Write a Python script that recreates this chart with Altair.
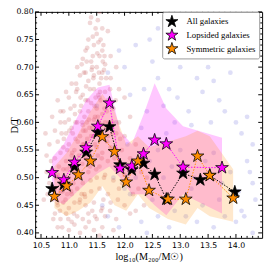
import altair as alt
import pandas as pd
import numpy as np

# ---------------- data ----------------
series_names = ["All galaxies", "Lopsided galaxies", "Symmetric galaxies"]
series_colors = ["black", "#ff00ff", "#ff8c00"]

all_x = [10.70, 10.91, 11.10, 11.31, 11.52, 11.73, 11.92, 12.13, 12.34, 12.54, 12.75, 13.05, 13.36, 13.53, 13.98]
all_y = [0.480, 0.488, 0.520, 0.546, 0.582, 0.592, 0.523, 0.514, 0.526, 0.506, 0.461, 0.508, 0.496, 0.504, 0.474]

lop_x = [10.70, 10.91, 11.10, 11.31, 11.52, 11.73, 11.92, 12.13, 12.34, 12.54, 12.75, 13.05, 13.75]
lop_y = [0.509, 0.496, 0.528, 0.554, 0.593, 0.635, 0.517, 0.521, 0.543, 0.568, 0.561, 0.519, 0.518]
lop_hi = [0.537, 0.561, 0.600, 0.640, 0.663, 0.668, 0.584, 0.561, 0.614, 0.671, 0.625, 0.593, 0.572]
lop_lo = [0.460, 0.452, 0.470, 0.490, 0.508, 0.520, 0.500, 0.470, 0.470, 0.450, 0.432, 0.470, 0.435]

sym_x = [10.74, 10.96, 11.17, 11.39, 11.60, 11.82, 12.03, 12.24, 12.44, 12.78, 13.10, 13.31, 13.53, 13.95]
sym_y = [0.466, 0.485, 0.505, 0.530, 0.574, 0.547, 0.492, 0.530, 0.477, 0.461, 0.461, 0.539, 0.504, 0.463]
sym_hi = [0.520, 0.545, 0.580, 0.620, 0.652, 0.620, 0.560, 0.575, 0.555, 0.565, 0.575, 0.585, 0.575, 0.515]
sym_lo = [0.445, 0.430, 0.440, 0.455, 0.485, 0.450, 0.440, 0.470, 0.445, 0.425, 0.415, 0.445, 0.430, 0.420]

red_x = [11.4, 11.55, 11.6, 11.5, 11.35, 11.7, 11.45, 11.6, 11.3, 11.25, 11.55, 11.75, 11.4, 11.15, 11.5, 11.65, 11.85,
         11.3, 11.2, 11.45, 11.6, 11.05, 11.35, 11.55, 11.75, 10.95, 11.15, 11.25, 11.45, 11.65, 11.9, 10.8, 11.0, 11.3,
         11.4, 11.55, 11.7, 12.0, 10.9, 11.1, 11.2, 11.35, 11.5, 11.6, 11.8, 10.7, 10.85, 11.0, 11.15, 11.25, 11.45,
         11.65, 11.9, 12.1, 10.75, 10.95, 11.05, 11.2, 11.3, 11.4, 11.55, 11.7, 11.85, 12.0, 10.65, 10.8, 10.9, 11.0,
         11.1, 11.25, 11.35, 11.5, 11.6, 11.75, 11.95, 12.2, 10.6, 10.75, 10.85, 10.95, 11.05, 11.15, 11.3, 11.45,
         11.55, 11.7, 11.85, 12.1, 10.7, 10.8, 10.9, 11.0, 11.1, 11.2, 11.35, 11.5, 11.65, 11.8, 12.0, 12.3, 10.65,
         10.75, 10.85, 10.95, 11.05, 11.15, 11.25, 11.4, 11.55, 11.7, 11.9, 12.15, 10.7, 10.8, 10.9, 11.0, 11.1, 11.2,
         11.3, 11.45, 11.6, 11.75, 12.0, 10.75, 10.85, 10.95, 11.05, 11.15, 11.25, 11.35, 11.5, 11.65, 11.85, 12.1,
         10.8, 11.0, 11.1, 11.3, 11.45, 11.6, 11.8, 11.2, 11.55, 11.22, 11.38, 11.48, 11.28, 11.42, 11.18, 11.33,
         11.47, 11.58, 11.12, 11.38, 11.52, 11.08, 11.28, 11.42, 11.62, 11.68, 11.72, 11.52, 11.32, 11.12, 11.02,
         10.92, 10.82, 11.58, 11.42, 11.32, 11.62, 11.48, 11.38, 11.52, 12.05, 12.25, 12.4, 12.2, 12.35, 10.55, 10.6,
         10.58, 10.85, 11.27, 11.43, 11.57, 11.13, 11.37, 11.63, 11.23, 11.47, 11.07, 10.97, 11.53, 11.67, 11.78]
red_y = [0.79, 0.80, 0.77, 0.76, 0.75, 0.765, 0.74, 0.73, 0.73, 0.715, 0.72, 0.72, 0.71, 0.70, 0.70, 0.705, 0.70,
         0.69, 0.685, 0.685, 0.69, 0.67, 0.675, 0.67, 0.68, 0.655, 0.66, 0.65, 0.66, 0.655, 0.66, 0.64, 0.645, 0.64,
         0.635, 0.645, 0.64, 0.645, 0.62, 0.63, 0.62, 0.62, 0.625, 0.615, 0.625, 0.61, 0.60, 0.605, 0.60, 0.595, 0.605,
         0.60, 0.60, 0.61, 0.585, 0.58, 0.59, 0.575, 0.585, 0.575, 0.58, 0.575, 0.58, 0.575, 0.56, 0.565, 0.555, 0.56,
         0.55, 0.56, 0.55, 0.555, 0.545, 0.555, 0.55, 0.56, 0.54, 0.535, 0.545, 0.53, 0.54, 0.525, 0.535, 0.53,
         0.52, 0.53, 0.52, 0.535, 0.515, 0.505, 0.515, 0.50, 0.51, 0.50, 0.51, 0.50, 0.505, 0.495, 0.505, 0.51, 0.49,
         0.48, 0.475, 0.485, 0.47, 0.48, 0.49, 0.475, 0.48, 0.47, 0.48, 0.47, 0.46, 0.45, 0.455, 0.445, 0.455, 0.46,
         0.45, 0.455, 0.445, 0.455, 0.45, 0.435, 0.425, 0.435, 0.42, 0.43, 0.425, 0.435, 0.425, 0.43, 0.425, 0.435,
         0.41, 0.405, 0.415, 0.41, 0.405, 0.41, 0.405, 0.40, 0.395, 0.63, 0.66, 0.645, 0.61, 0.59, 0.54, 0.57,
         0.56, 0.595, 0.57, 0.52, 0.54, 0.49, 0.47, 0.44, 0.46, 0.62, 0.60, 0.61, 0.60, 0.60, 0.52,
         0.50, 0.52, 0.68, 0.70, 0.71, 0.74, 0.77, 0.78, 0.785, 0.52, 0.48, 0.50, 0.44, 0.45, 0.46, 0.51,
         0.58, 0.62, 0.69, 0.72, 0.75, 0.67, 0.54, 0.50, 0.47, 0.43, 0.58, 0.47, 0.65, 0.59, 0.58]

red_extra = [(11.21, 0.645), (11.31, 0.665), (11.41, 0.695), (11.51, 0.725), (11.61, 0.71), (11.11, 0.615),
             (11.01, 0.585), (10.91, 0.57), (11.26, 0.585), (11.36, 0.605), (11.46, 0.63), (11.56, 0.655),
             (11.16, 0.565), (11.06, 0.545), (10.96, 0.515), (10.86, 0.495), (11.24, 0.525), (11.34, 0.545),
             (11.44, 0.575), (11.54, 0.60), (11.64, 0.625), (11.14, 0.505), (11.04, 0.475), (10.94, 0.46),
             (10.84, 0.44), (11.29, 0.465), (11.39, 0.495), (11.49, 0.515), (11.59, 0.535), (11.69, 0.565),
             (11.19, 0.455), (11.09, 0.435), (10.99, 0.425), (10.89, 0.475), (10.79, 0.455), (11.23, 0.705),
             (11.33, 0.735), (11.43, 0.755), (11.53, 0.745), (11.63, 0.695), (11.13, 0.655), (11.03, 0.625),
             (10.93, 0.60), (11.27, 0.56), (11.37, 0.59), (11.47, 0.61), (11.57, 0.64), (11.67, 0.68),
             (11.17, 0.51), (11.07, 0.53), (10.97, 0.55), (10.87, 0.58), (10.77, 0.50), (11.44, 0.68),
             (11.34, 0.64), (11.24, 0.60), (11.54, 0.69), (11.64, 0.72), (11.74, 0.66), (11.84, 0.64),
             (10.72, 0.425), (10.88, 0.41), (11.36, 0.42), (11.58, 0.44), (11.74, 0.44), (11.88, 0.46),
             (11.96, 0.49), (11.92, 0.57), (11.82, 0.535), (11.78, 0.6), (10.68, 0.53), (10.62, 0.47)]

blue_x = [11.9, 12.2, 12.6, 12.0, 12.5, 12.35, 12.6, 12.9, 13.2, 13.0, 13.5, 13.9, 12.1, 12.8, 13.3, 13.6, 12.95,
          13.7, 13.8, 14.2, 12.4, 12.7, 13.4, 14.0, 11.85, 12.3, 12.9, 13.2, 14.1, 14.3, 12.05, 12.6, 13.0, 13.6,
          14.2, 12.2, 12.7, 13.2, 13.9, 14.3, 12.1, 12.5, 12.9, 13.4, 13.8, 14.1, 14.35, 11.7, 12.3, 12.8, 13.1,
          13.6, 14.0, 11.9, 12.4, 12.6, 13.3, 13.7, 12.0, 11.8, 11.6, 11.95, 12.45, 12.85, 13.25, 13.45, 13.75,
          14.05, 14.25, 11.5, 11.7, 12.45, 13.15, 13.55, 12.75, 14.15, 14.3]
blue_y = [0.73, 0.74, 0.77, 0.70, 0.71, 0.66, 0.68, 0.72, 0.73, 0.70, 0.70, 0.69, 0.65, 0.66, 0.68, 0.675, 0.645,
          0.64, 0.62, 0.61, 0.62, 0.63, 0.655, 0.60, 0.60, 0.59, 0.60, 0.595, 0.58, 0.56, 0.56, 0.55, 0.55, 0.545,
          0.53, 0.50, 0.50, 0.48, 0.51, 0.49, 0.47, 0.46, 0.44, 0.45, 0.43, 0.44, 0.46, 0.43, 0.42, 0.41, 0.43,
          0.41, 0.42, 0.41, 0.40, 0.43, 0.42, 0.46, 0.48, 0.50, 0.45, 0.52, 0.53, 0.52, 0.50, 0.53, 0.49,
          0.475, 0.51, 0.63, 0.69, 0.75, 0.62, 0.60, 0.58, 0.43, 0.40]

x_major = [10.5, 11.0, 11.5, 12.0, 12.5, 13.0, 13.5, 14.0]
y_major = [0.40, 0.45, 0.50, 0.55, 0.60, 0.65, 0.70, 0.75, 0.80]

# ---------------- styling ----------------
STAR = ("M0,-1L0.2245,-0.309L0.951,-0.309L0.3633,0.118L0.5878,0.809L0,0.382"
        "L-0.5878,0.809L-0.3633,0.118L-0.951,-0.309L-0.2245,-0.309Z")
W, H = 234, 233
xs = alt.Scale(domain=[10.395, 14.47], nice=False, zero=False)
ys = alt.Scale(domain=[0.391, 0.80], nice=False, zero=False)

xaxis = alt.Axis(values=x_major, format=".1f", tickSize=0, labelPadding=4, grid=False, domain=False,
                 labelOverlap=False, labelFlush=False,
                 title="log\u2081\u2080(M\u2082\u2080\u2080/M\u2609)", titlePadding=2)
yaxis = alt.Axis(values=y_major, format=".2f", tickSize=0, labelPadding=2, grid=False, domain=False,
                 labelOverlap=False, labelFlush=False,
                 title="D/T", titlePadding=-4)


def X(field):
    return alt.X(field, scale=xs, axis=xaxis)


def Y(field):
    return alt.Y(field, scale=ys, axis=yaxis)


red = pd.DataFrame({"x": red_x + [p[0] for p in red_extra], "y": red_y + [p[1] for p in red_extra]})
blue = pd.DataFrame({"x": blue_x, "y": blue_y})

red_layer = alt.Chart(red).mark_circle(size=24, color="#c04848", opacity=0.22, clip=True).encode(
    x=X("x:Q"), y=Y("y:Q"))
blue_layer = alt.Chart(blue).mark_circle(size=24, color="#5a5ad8", opacity=0.2, clip=True).encode(
    x=X("x:Q"), y=Y("y:Q"))

lop_band = alt.Chart(pd.DataFrame({"x": lop_x, "lo": lop_lo, "hi": lop_hi})).mark_area(
    color="#ff00ff", opacity=0.22, clip=True).encode(
    x=X("x:Q"), y=Y("lo:Q"), y2="hi:Q")
sym_band = alt.Chart(pd.DataFrame({"x": sym_x, "lo": sym_lo, "hi": sym_hi})).mark_area(
    color="#ff8c00", opacity=0.2, clip=True).encode(
    x=X("x:Q"), y=Y("lo:Q"), y2="hi:Q")

stars = pd.concat([
    pd.DataFrame({"series": series_names[0], "x": all_x, "y": all_y}),
    pd.DataFrame({"series": series_names[1], "x": lop_x, "y": lop_y}),
    pd.DataFrame({"series": series_names[2], "x": sym_x, "y": sym_y}),
], ignore_index=True)
stars["i"] = range(len(stars))

lines = []
for name, col in zip(series_names, series_colors):
    lines.append(alt.Chart(stars[stars.series == name]).mark_line(
        color=col, strokeWidth=1, strokeDash=[1.5, 1.5]).encode(
        x=X("x:Q"), y=Y("y:Q"), order="x:Q"))

star_layer = alt.Chart(stars).mark_point(
    shape=STAR, size=190, filled=True, opacity=1, stroke="black", strokeWidth=0.8).encode(
    x=X("x:Q"), y=Y("y:Q"),
    fill=alt.Fill("series:N", scale=alt.Scale(domain=series_names, range=series_colors),
                  legend=alt.Legend(title=None, orient="none", legendX=131, legendY=0, symbolType=STAR,
                                    symbolSize=170, symbolStrokeColor="black", symbolStrokeWidth=0.8,
                                    labelFont="Liberation Serif", labelFontSize=9, labelColor="black",
                                    labelOffset=8, strokeColor="#999999", fillColor="white",
                                    padding=3, rowPadding=-4,
                                    cornerRadius=2, labelLimit=200, symbolOpacity=1)),
    order="i:Q")

x_minor = [round(v, 2) for v in np.arange(10.4, 14.45, 0.1) if round(v * 2, 3) % 1 != 0]
y_minor = [round(v, 3) for v in np.arange(0.40, 0.801, 0.01) if round(v * 20, 3) % 1 != 0]

tick_layers = []
for vals, L in [(x_major, 4), (x_minor, 2)]:
    d = pd.DataFrame({"v": vals})
    tick_layers.append(alt.Chart(d).mark_rule(color="black", strokeWidth=1).encode(
        x=X("v:Q"), y=alt.value(H), y2=alt.value(H - L)))
    tick_layers.append(alt.Chart(d).mark_rule(color="black", strokeWidth=1).encode(
        x=X("v:Q"), y=alt.value(0), y2=alt.value(L)))
for vals, L in [(y_major, 4), (y_minor, 2)]:
    d = pd.DataFrame({"v": vals})
    tick_layers.append(alt.Chart(d).mark_rule(color="black", strokeWidth=1).encode(
        y=Y("v:Q"), x=alt.value(0), x2=alt.value(L)))
    tick_layers.append(alt.Chart(d).mark_rule(color="black", strokeWidth=1).encode(
        y=Y("v:Q"), x=alt.value(W), x2=alt.value(W - L)))

chart = alt.layer(red_layer, blue_layer, lop_band, sym_band, *lines, star_layer, *tick_layers).properties(
    width=W, height=H,
    autosize=alt.AutoSizeParams(type="none"),
    padding={"left": 28, "top": 0, "right": 4, "bottom": 25},
).configure_view(stroke="black", strokeWidth=1).configure_axis(
    labelFont="DejaVu Sans", labelFontSize=8, labelColor="black", labelOverlap=False,
    titleFont="Liberation Serif", titleFontSize=10.5, titleFontWeight="normal", titleColor="black",
)

chart.save("out.html", embed_options={"renderer": "svg", "actions": False})
